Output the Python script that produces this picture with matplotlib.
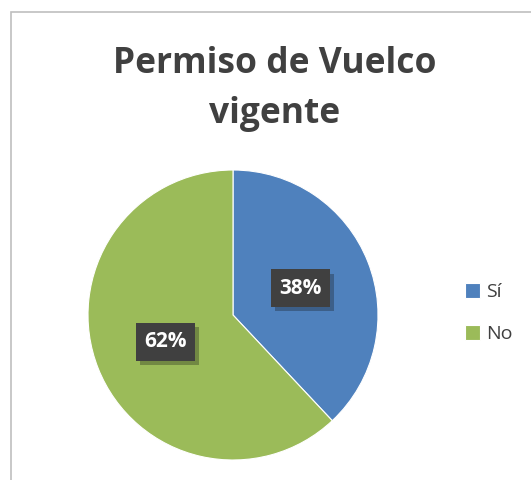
import matplotlib
matplotlib.use('Agg')
import matplotlib.pyplot as plt
import matplotlib.patheffects as pe
from matplotlib.patches import Rectangle

labels = ['Sí', 'No']
values = [38, 62]
colors = ['#4F81BD', '#9BBB59']

W, H = 531, 480
fig = plt.figure(figsize=(W / 100, H / 100), dpi=100)

# chart frame (runs off the right and bottom edges)
fig.patches.append(Rectangle((11 / W, -0.1), 1.2, 1 - 12 / H + 0.1, transform=fig.transFigure,
                             fill=False, edgecolor='#BFBFBF', linewidth=1.2))

fig.text(275 / W, 1 - 89 / H, 'Permiso de Vuelco\nvigente', ha='center', va='center',
         fontsize=25.5, fontweight='bold', color='#404040', family='Open Sans', linespacing=1.5)

ax = fig.add_axes([88 / W, 20 / H, 290 / W, 290 / H])
wedges, texts, autotexts = ax.pie(values, colors=colors, startangle=90, counterclock=False,
                                  autopct='%1.0f%%', pctdistance=0.5,
                                  wedgeprops=dict(edgecolor='white', linewidth=0.8),
                                  textprops=dict(color='white', fontsize=15, fontweight='bold',
                                                 family='Open Sans'))
for t in autotexts:
    t.set_bbox(dict(boxstyle='square,pad=0.4', facecolor='#404040', edgecolor='none'))
    t.get_bbox_patch().set_path_effects([pe.SimplePatchShadow(offset=(3, -3), alpha=0.3),
                                         pe.Normal()])
ax.set_xlim(-1, 1)
ax.set_ylim(-1, 1)
ax.set_aspect('equal')

leg = fig.legend(wedges, labels, loc='center left', bbox_to_anchor=(447 / W, 1 - 313 / H),
                 frameon=False, handlelength=0.8, handleheight=0.8, handletextpad=0.3,
                 labelspacing=1.25, prop=dict(family='Open Sans', size=14))
for t in leg.get_texts():
    t.set_color('#404040')

fig.savefig('out.png', dpi=100)
